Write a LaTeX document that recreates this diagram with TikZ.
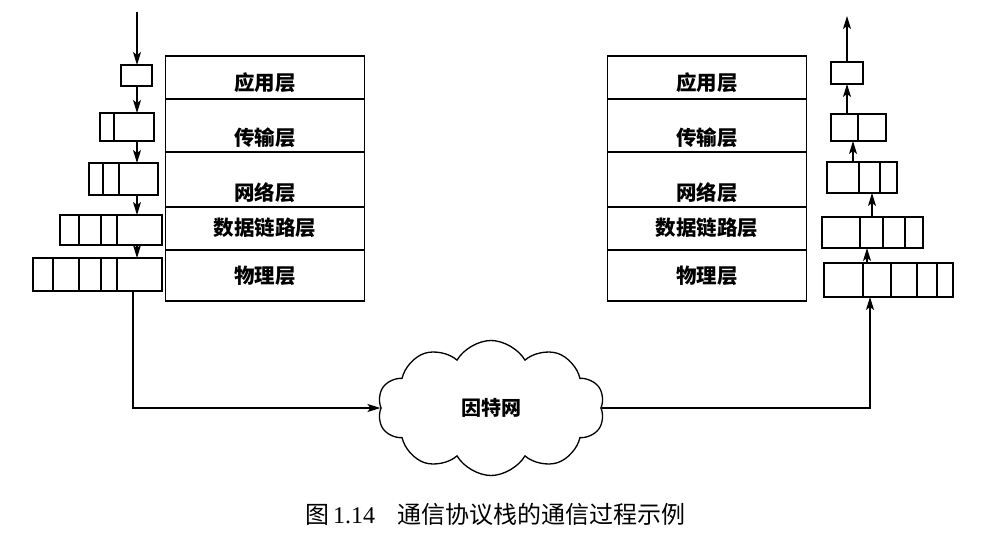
\documentclass[tikz,border=0pt]{standalone}
\usepackage{fontspec}
\newfontfamily\cjk{Noto Sans CJK SC}
\newfontfamily\numfont{Liberation Serif}
\usepackage{tikz}
\usetikzlibrary{positioning, calc, arrows.meta, shapes, shapes.symbols}
\tikzset{layerbox/.style={draw, line width=1.4pt, minimum width=199pt, inner sep=0, outer sep=0}}
\tikzset{layertxt/.style={inner sep=0, font=\cjk\bfseries\fontsize{20.5}{24}\selectfont}}
\tikzset{pktbox/.style={draw, line width=1.4pt, inner sep=0, outer sep=0}}
\tikzset{arr/.style={draw, -{Stealth[length=13pt, width=8pt, inset=3pt]}, line width=1.3pt}}
\tikzset{netcloud/.style={draw, cloud, cloud puffs=10, cloud puff arc=120, cloud ignores aspect, minimum width=227pt, minimum height=135pt, line width=1.3pt, inner sep=0, font=\cjk\bfseries\fontsize{20}{24}\selectfont}}

\begin{document}
\begin{tikzpicture}[x=1pt, y=-1pt]
\useasboundingbox (0,0) rectangle (1007,551);
% the two protocol stacks
\foreach \cx/\s in {265/L, 707/R}{
  \foreach \top/\h/\ty/\t [count=\i] in {56/43/83/应用层, 99/53/138/传输层, 152/55/193/网络层, 207/43/228/数据链路层, 250/51/276/物理层}{
    \node[layerbox, minimum height=\h] (\s\i) at (\cx,\top+\h/2) {};
    \node[layertxt] (\s\i-txt) at (\cx,\ty) {\t};
  }
}
% packets with their headers
\foreach \n/\xa/\xb/\ya/\yb in {lp1/121/152/65/86, lp2/100/154/113/141, lp3/89/158/163/195, lp4/60/162/215/245, lp5/33/162/258/291, rp1/831/863/62/84, rp2/831/886/114/141, rp3/827/897/162/193, rp4/822/923/217/248, rp5/824/953/263/297}
  \node[pktbox, minimum width=\xb-\xa, minimum height=\yb-\ya] (\n) at ({(\xa+\xb)/2},{(\ya+\yb)/2}) {};
\foreach \n/\d in {lp2/114, lp3/103, lp3/119, lp4/79, lp4/101, lp4/117, lp5/53, lp5/79, lp5/101, lp5/117, rp2/858, rp3/859, rp3/880, rp4/860, rp4/883, rp4/905, rp5/863, rp5/891, rp5/917, rp5/937}
  \draw[line width=1.4pt] (\n.north -| \d,0) -- (\n.south -| \d,0);
% sending side
\coordinate (lin) at (137,12);
\draw[arr] (lin) -- (lin |- lp1.north);
\foreach \a/\b in {lp1/lp2, lp2/lp3, lp3/lp4, lp4/lp5}
  \draw[arr] (\a.south -| lin) -- (\b.north -| lin);
\node[netcloud] (net) at (491,408) {因特网};
\coordinate (ldown) at (133,0);
\draw[arr] (lp5.south -| ldown) |- (net.west);
% receiving side
\coordinate (rout) at (847,16);
\draw[arr] (rp1.north -| rout) -- (rout);
\foreach \a/\b/\x in {rp2/rp1/847, rp3/rp2/853, rp4/rp3/872, rp5/rp4/867}
  \draw[arr] (\a.north -| \x,0) -- (\b.south -| \x,0);
\draw[arr] (net.east) -| (rp5.south -| 870,0);
\node[font=\cjk\fontsize{24}{28}\selectfont] (cap) at (495,514) {图\,{\numfont 1.14}\hspace{22pt}通信协议栈的通信过程示例};
\end{tikzpicture}
\end{document}
